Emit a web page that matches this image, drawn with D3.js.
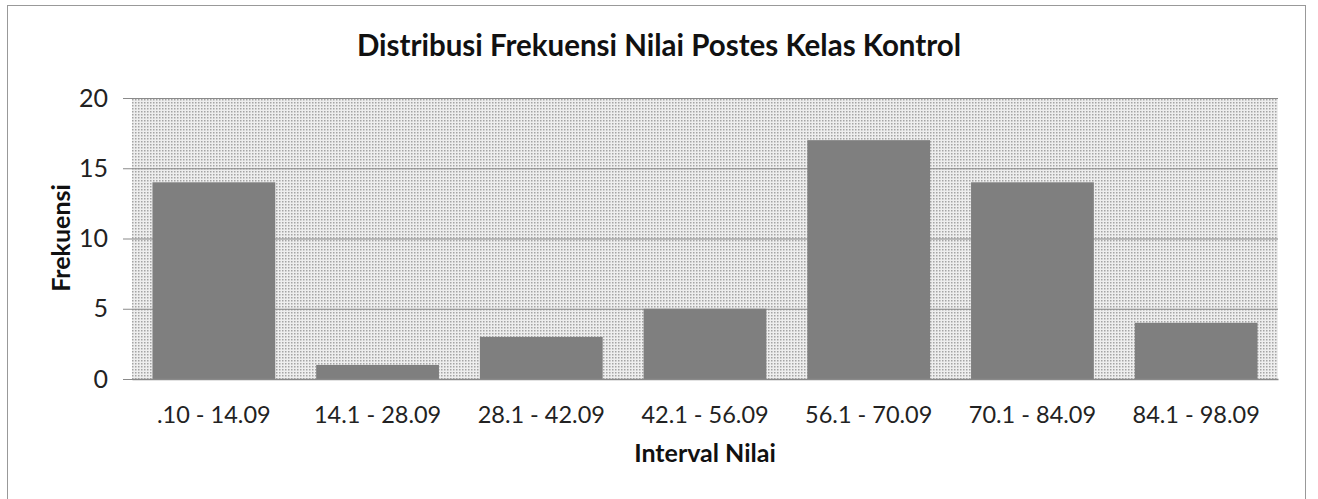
<!DOCTYPE html>
<html>
<head>
<meta charset="utf-8">
<script src="https://cdn.jsdelivr.net/npm/d3@7"></script>
<style>
  body { margin: 0; background: #fff; }
  text { font-family: Lato, "Open Sans", sans-serif; }
</style>
</head>
<body>
<svg id="chart" width="1318" height="499"></svg>
<script>
// chart data
const categories = ['.10 - 14.09', '14.1 - 28.09', '28.1 - 42.09', '42.1 - 56.09', '56.1 - 70.09', '70.1 - 84.09', '84.1 - 98.09'];
const frequencies = [14, 1, 3, 5, 17, 14, 4];
const yTicks = [0, 5, 10, 15, 20];

const svg = d3.select('#chart');
const plot = { left: 132, right: 1278, top: 98, bottom: 379 };

// outer frame
svg.append('rect')
  .attr('x', 7.5).attr('y', 5.5)
  .attr('width', 1298).attr('height', 500)
  .attr('fill', '#fff')
  .attr('stroke', '#999');

// dotted background pattern
const defs = svg.append('defs');
const pat = defs.append('pattern')
  .attr('id', 'dots')
  .attr('width', 3).attr('height', 3)
  .attr('patternUnits', 'userSpaceOnUse');
pat.append('rect').attr('width', 3).attr('height', 3).attr('fill', '#eeeeee');
pat.append('rect').attr('width', 1.5).attr('height', 1.5).attr('fill', '#a4a4a4');

const x = d3.scaleBand()
  .domain(categories)
  .range([plot.left, plot.right])
  .paddingInner(0.25)
  .paddingOuter(0.125);

const y = d3.scaleLinear()
  .domain([0, 20])
  .range([plot.bottom, plot.top]);

svg.append('rect')
  .attr('x', plot.left).attr('y', plot.top)
  .attr('width', plot.right - plot.left)
  .attr('height', plot.bottom - plot.top)
  .attr('fill', 'url(#dots)');

// gridlines + ticks
const yAxis = svg.append('g')
  .attr('transform', `translate(${plot.left},0)`)
  .call(d3.axisLeft(y).tickValues(yTicks).tickSize(-(plot.right - plot.left)).tickPadding(24));
yAxis.select('.domain').remove();
yAxis.selectAll('.tick line')
  .attr('x1', -9)
  .attr('stroke', '#8a8a8a')
  .attr('stroke-width', 1.2);
yAxis.selectAll('.tick text')
  .attr('font-family', 'Lato, sans-serif')
  .attr('font-size', 25)
  .attr('fill', '#222');

// bars
svg.append('g').selectAll('rect')
  .data(frequencies)
  .join('rect')
  .attr('x', (d, i) => x(categories[i]))
  .attr('y', d => y(d))
  .attr('width', x.bandwidth())
  .attr('height', d => y(0) - y(d))
  .attr('fill', '#7f7f7f');

// x axis labels
const xAxis = svg.append('g')
  .attr('transform', `translate(0,${plot.bottom})`)
  .call(d3.axisBottom(x).tickSize(0).tickPadding(0));
xAxis.select('.domain').attr('stroke', '#8a8a8a').attr('stroke-width', 1.5);
xAxis.selectAll('.tick text')
  .attr('font-family', 'Lato, sans-serif')
  .attr('font-size', 23.5)
  .attr('dy', null)
  .attr('y', 44)
  .attr('fill', '#222');

// titles
svg.append('text')
  .attr('x', 659).attr('y', 56)
  .attr('text-anchor', 'middle')
  .attr('font-size', 29.5)
  .attr('font-weight', 'bold')
  .attr('fill', '#111')
  .text('Distribusi Frekuensi Nilai Postes Kelas Kontrol');

svg.append('text')
  .attr('x', 705).attr('y', 462)
  .attr('text-anchor', 'middle')
  .attr('font-size', 25)
  .attr('font-weight', 'bold')
  .attr('fill', '#111')
  .text('Interval Nilai');

svg.append('text')
  .attr('transform', 'translate(70,238) rotate(-90)')
  .attr('text-anchor', 'middle')
  .attr('font-size', 25)
  .attr('font-weight', 'bold')
  .attr('fill', '#111')
  .text('Frekuensi');
</script>
</body>
</html>
